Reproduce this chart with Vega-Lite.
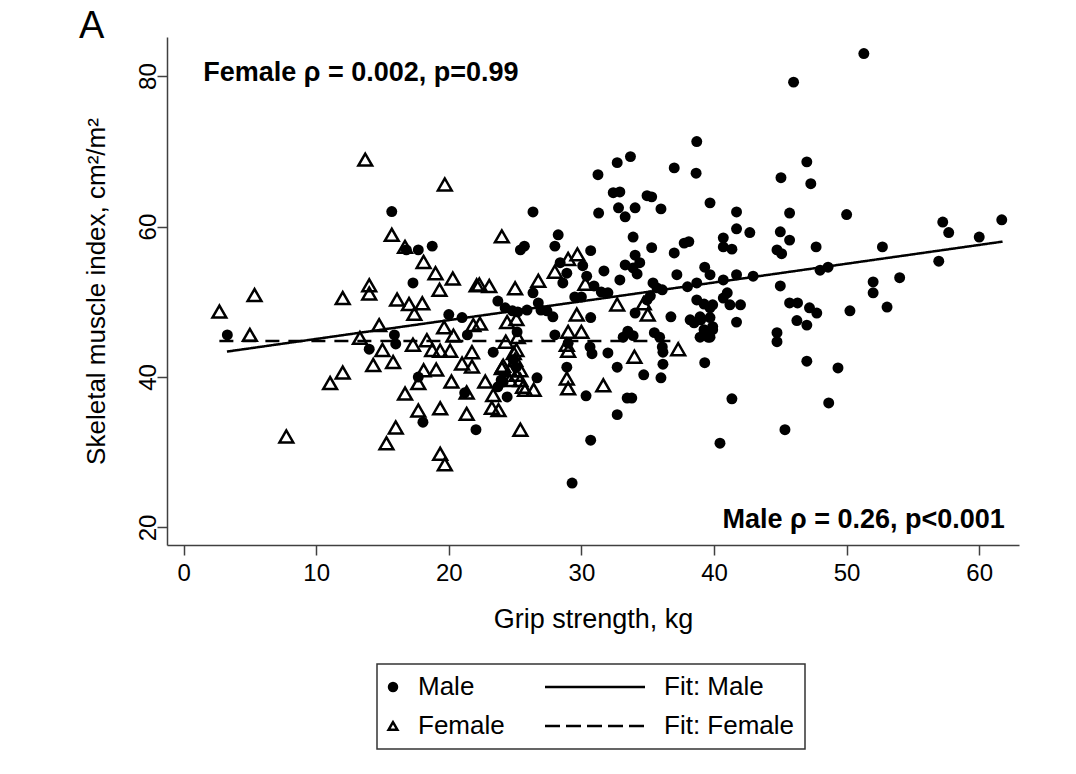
{
  "$schema": "https://vega.github.io/schema/vega-lite/v6.json",
  "width": 852,
  "height": 508,
  "autosize": {"type": "none"},
  "padding": {"left": 167, "top": 37, "right": 57, "bottom": 229},
  "background": "white",
  "title": {"text": "A", "anchor": "start", "frame": "group", "fontSize": 38, "font": "Liberation Sans", "fontWeight": "normal", "color": "black", "dx": -88, "dy": 31, "offset": -8, "baseline": "alphabetic"},
  "config": {
    "view": {"stroke": null},
    "axis": {"labelFont": "Liberation Sans", "titleFont": "Liberation Sans", "labelColor": "black", "titleColor": "black", "domainColor": "#404040", "tickColor": "#404040", "domainWidth": 1.5, "tickWidth": 1.5, "tickSize": 10, "grid": false, "labelFontSize": 24, "titleFontWeight": "normal"}
  },
  "datasets": {
    "fit": [
      {"g": "Fit: Male", "x": 3.27, "y": 43.38},
      {"g": "Fit: Male", "x": 61.76, "y": 58.0},
      {"g": "Fit: Female", "x": 2.7, "y": 44.8},
      {"g": "Fit: Female", "x": 37.4, "y": 44.8}
    ],
    "ann": [
      {"sex": "Female", "label": "Female ρ = 0.002, p=0.99", "x": 1.48, "y": 79.3},
      {"sex": "Male", "label": "Male ρ = 0.26, p<0.001", "x": 61.93, "y": 19.95}
    ],
    "pts": [
      {"g":"Female","x":13.7,"y":68.9},{"g":"Female","x":19.7,"y":65.6},{"g":"Female","x":15.7,"y":58.9},{"g":"Female","x":16.7,"y":57.3},{"g":"Female","x":18.1,"y":55.3},{"g":"Female","x":19.0,"y":53.8},{"g":"Female","x":20.3,"y":53.1},{"g":"Female","x":19.3,"y":51.6},{"g":"Female","x":14.0,"y":51.1},{"g":"Female","x":14.0,"y":52.2},{"g":"Female","x":12.0,"y":50.5},{"g":"Female","x":16.1,"y":50.3},{"g":"Female","x":17.0,"y":49.7},{"g":"Female","x":18.0,"y":49.8},{"g":"Female","x":17.4,"y":48.4},{"g":"Female","x":5.35,"y":50.9},{"g":"Female","x":2.7,"y":48.7},{"g":"Female","x":5.0,"y":45.6},{"g":"Female","x":13.3,"y":45.2},{"g":"Female","x":14.75,"y":46.9},{"g":"Female","x":19.65,"y":46.6},{"g":"Female","x":20.35,"y":45.5},{"g":"Female","x":15.0,"y":43.6},{"g":"Female","x":14.3,"y":41.6},{"g":"Female","x":15.8,"y":42.0},{"g":"Female","x":17.3,"y":44.3},{"g":"Female","x":18.35,"y":44.9},{"g":"Female","x":18.75,"y":43.6},{"g":"Female","x":19.35,"y":43.5},{"g":"Female","x":20.1,"y":43.5},{"g":"Female","x":12.0,"y":40.6},{"g":"Female","x":18.1,"y":40.9},{"g":"Female","x":19.05,"y":41.0},{"g":"Female","x":11.05,"y":39.2},{"g":"Female","x":7.75,"y":32.1},{"g":"Female","x":16.7,"y":37.8},{"g":"Female","x":17.7,"y":39.2},{"g":"Female","x":19.35,"y":35.85},{"g":"Female","x":17.7,"y":35.55},{"g":"Female","x":20.2,"y":39.4},{"g":"Female","x":16.0,"y":33.3},{"g":"Female","x":15.3,"y":31.2},{"g":"Female","x":19.35,"y":29.8},{"g":"Female","x":19.7,"y":28.4},{"g":"Female","x":22.1,"y":52.2},{"g":"Female","x":21.85,"y":46.9},{"g":"Female","x":21.75,"y":43.3},{"g":"Female","x":21.0,"y":41.8},{"g":"Female","x":21.75,"y":41.4},{"g":"Female","x":21.35,"y":37.95},{"g":"Female","x":21.35,"y":35.1},{"g":"Female","x":24.0,"y":58.7},{"g":"Female","x":22.3,"y":52.3},{"g":"Female","x":23.05,"y":52.1},{"g":"Female","x":25.0,"y":51.8},{"g":"Female","x":26.75,"y":52.8},{"g":"Female","x":28.0,"y":54.0},{"g":"Female","x":29.0,"y":55.7},{"g":"Female","x":29.7,"y":56.3},{"g":"Female","x":30.3,"y":52.4},{"g":"Female","x":32.7,"y":49.65},{"g":"Female","x":34.7,"y":49.8},{"g":"Female","x":35.0,"y":48.3},{"g":"Female","x":22.35,"y":47.1},{"g":"Female","x":24.4,"y":47.3},{"g":"Female","x":25.1,"y":47.7},{"g":"Female","x":24.3,"y":44.7},{"g":"Female","x":25.2,"y":45.3},{"g":"Female","x":29.65,"y":48.3},{"g":"Female","x":29.0,"y":46.0},{"g":"Female","x":30.0,"y":46.0},{"g":"Female","x":28.9,"y":44.3},{"g":"Female","x":29.0,"y":43.5},{"g":"Female","x":37.3,"y":43.7},{"g":"Female","x":34.0,"y":42.7},{"g":"Female","x":25.1,"y":43.6},{"g":"Female","x":25.0,"y":42.3},{"g":"Female","x":24.1,"y":41.5},{"g":"Female","x":24.6,"y":40.9},{"g":"Female","x":25.4,"y":40.9},{"g":"Female","x":22.75,"y":39.4},{"g":"Female","x":24.0,"y":41.2},{"g":"Female","x":25.1,"y":40.3},{"g":"Female","x":25.4,"y":39.6},{"g":"Female","x":25.75,"y":38.3},{"g":"Female","x":26.4,"y":38.3},{"g":"Female","x":24.6,"y":39.6},{"g":"Female","x":23.25,"y":35.9},{"g":"Female","x":23.75,"y":35.6},{"g":"Female","x":25.4,"y":33.0},{"g":"Female","x":28.9,"y":39.8},{"g":"Female","x":29.0,"y":38.5},{"g":"Female","x":31.65,"y":38.9},{"g":"Female","x":23.35,"y":37.6},{"g":"Female","x":24.9,"y":43.2},{"g":"Female","x":25.6,"y":38.7},
      {"g":"Male","x":3.3,"y":45.6},{"g":"Male","x":15.7,"y":62.0},{"g":"Male","x":18.75,"y":57.4},{"g":"Male","x":16.8,"y":56.9},{"g":"Male","x":17.7,"y":56.9},{"g":"Male","x":17.3,"y":52.5},{"g":"Male","x":20.0,"y":48.3},{"g":"Male","x":21.0,"y":47.9},{"g":"Male","x":14.0,"y":43.7},{"g":"Male","x":15.9,"y":45.6},{"g":"Male","x":16.0,"y":44.4},{"g":"Male","x":17.7,"y":40.0},{"g":"Male","x":18.05,"y":34.0},{"g":"Male","x":21.4,"y":45.6},{"g":"Male","x":21.2,"y":37.9},{"g":"Male","x":38.7,"y":71.3},{"g":"Male","x":33.7,"y":69.3},{"g":"Male","x":32.7,"y":68.5},{"g":"Male","x":31.25,"y":66.9},{"g":"Male","x":37.0,"y":67.8},{"g":"Male","x":38.65,"y":67.1},{"g":"Male","x":32.4,"y":64.5},{"g":"Male","x":32.9,"y":64.6},{"g":"Male","x":34.95,"y":64.1},{"g":"Male","x":35.3,"y":63.95},{"g":"Male","x":31.3,"y":61.8},{"g":"Male","x":32.8,"y":62.5},{"g":"Male","x":33.3,"y":61.3},{"g":"Male","x":34.05,"y":62.5},{"g":"Male","x":36.0,"y":62.35},{"g":"Male","x":39.7,"y":63.15},{"g":"Male","x":26.35,"y":61.95},{"g":"Male","x":33.9,"y":58.6},{"g":"Male","x":35.3,"y":57.2},{"g":"Male","x":37.75,"y":57.8},{"g":"Male","x":38.1,"y":58.0},{"g":"Male","x":37.0,"y":56.5},{"g":"Male","x":34.05,"y":56.2},{"g":"Male","x":33.3,"y":54.9},{"g":"Male","x":33.9,"y":54.5},{"g":"Male","x":34.4,"y":55.2},{"g":"Male","x":34.2,"y":53.7},{"g":"Male","x":32.9,"y":52.9},{"g":"Male","x":31.7,"y":54.1},{"g":"Male","x":30.7,"y":56.8},{"g":"Male","x":28.25,"y":58.9},{"g":"Male","x":28.0,"y":57.4},{"g":"Male","x":25.4,"y":56.9},{"g":"Male","x":25.7,"y":57.4},{"g":"Male","x":28.4,"y":55.2},{"g":"Male","x":28.9,"y":53.8},{"g":"Male","x":28.6,"y":52.5},{"g":"Male","x":30.1,"y":54.8},{"g":"Male","x":30.4,"y":53.4},{"g":"Male","x":30.95,"y":52.1},{"g":"Male","x":31.5,"y":51.3},{"g":"Male","x":32.0,"y":51.2},{"g":"Male","x":29.5,"y":50.65},{"g":"Male","x":30.0,"y":50.65},{"g":"Male","x":35.4,"y":52.5},{"g":"Male","x":35.7,"y":51.85},{"g":"Male","x":36.1,"y":51.6},{"g":"Male","x":35.2,"y":50.8},{"g":"Male","x":38.0,"y":52.0},{"g":"Male","x":38.7,"y":52.5},{"g":"Male","x":38.7,"y":50.25},{"g":"Male","x":39.25,"y":49.7},{"g":"Male","x":39.7,"y":49.2},{"g":"Male","x":38.5,"y":47.2},{"g":"Male","x":39.0,"y":47.6},{"g":"Male","x":39.25,"y":46.3},{"g":"Male","x":39.55,"y":45.3},{"g":"Male","x":39.9,"y":46.3},{"g":"Male","x":34.05,"y":48.5},{"g":"Male","x":36.75,"y":48.0},{"g":"Male","x":23.7,"y":50.1},{"g":"Male","x":26.35,"y":51.2},{"g":"Male","x":26.75,"y":49.85},{"g":"Male","x":26.95,"y":48.9},{"g":"Male","x":27.4,"y":48.8},{"g":"Male","x":27.85,"y":48.0},{"g":"Male","x":24.25,"y":49.2},{"g":"Male","x":24.8,"y":48.8},{"g":"Male","x":25.2,"y":48.65},{"g":"Male","x":25.9,"y":48.9},{"g":"Male","x":30.7,"y":47.9},{"g":"Male","x":28.0,"y":45.6},{"g":"Male","x":29.0,"y":44.5},{"g":"Male","x":33.5,"y":46.1},{"g":"Male","x":33.9,"y":45.5},{"g":"Male","x":35.5,"y":45.9},{"g":"Male","x":35.9,"y":45.3},{"g":"Male","x":36.1,"y":44.0},{"g":"Male","x":36.15,"y":43.3},{"g":"Male","x":30.65,"y":44.0},{"g":"Male","x":32.0,"y":43.2},{"g":"Male","x":32.7,"y":41.3},{"g":"Male","x":36.15,"y":41.7},{"g":"Male","x":39.3,"y":41.9},{"g":"Male","x":28.9,"y":41.3},{"g":"Male","x":26.65,"y":39.9},{"g":"Male","x":23.35,"y":43.3},{"g":"Male","x":24.85,"y":42.3},{"g":"Male","x":25.1,"y":41.3},{"g":"Male","x":30.8,"y":43.1},{"g":"Male","x":34.7,"y":40.3},{"g":"Male","x":36.0,"y":39.9},{"g":"Male","x":30.35,"y":37.5},{"g":"Male","x":33.45,"y":37.2},{"g":"Male","x":33.8,"y":37.2},{"g":"Male","x":32.7,"y":35.0},{"g":"Male","x":30.7,"y":31.6},{"g":"Male","x":29.3,"y":25.9},{"g":"Male","x":22.05,"y":33.0},{"g":"Male","x":24.4,"y":37.35},{"g":"Male","x":23.7,"y":38.7},{"g":"Male","x":23.95,"y":39.6},{"g":"Male","x":25.15,"y":46.0},{"g":"Male","x":40.45,"y":31.2},{"g":"Male","x":51.3,"y":83.0},{"g":"Male","x":46.0,"y":79.2},{"g":"Male","x":47.0,"y":68.6},{"g":"Male","x":45.05,"y":66.5},{"g":"Male","x":47.3,"y":65.7},{"g":"Male","x":41.7,"y":61.95},{"g":"Male","x":45.7,"y":61.8},{"g":"Male","x":50.0,"y":61.6},{"g":"Male","x":41.7,"y":59.7},{"g":"Male","x":42.7,"y":59.2},{"g":"Male","x":45.0,"y":59.3},{"g":"Male","x":45.7,"y":58.2},{"g":"Male","x":40.7,"y":58.5},{"g":"Male","x":40.7,"y":57.3},{"g":"Male","x":41.35,"y":57.0},{"g":"Male","x":44.75,"y":56.9},{"g":"Male","x":45.1,"y":56.4},{"g":"Male","x":47.7,"y":57.3},{"g":"Male","x":52.7,"y":57.3},{"g":"Male","x":57.25,"y":60.6},{"g":"Male","x":57.7,"y":59.2},{"g":"Male","x":60.0,"y":58.6},{"g":"Male","x":61.7,"y":60.9},{"g":"Male","x":56.95,"y":55.4},{"g":"Male","x":48.6,"y":54.6},{"g":"Male","x":48.0,"y":54.2},{"g":"Male","x":39.3,"y":54.6},{"g":"Male","x":41.7,"y":53.6},{"g":"Male","x":42.95,"y":53.4},{"g":"Male","x":54.0,"y":53.2},{"g":"Male","x":52.0,"y":52.65},{"g":"Male","x":52.0,"y":51.2},{"g":"Male","x":53.05,"y":49.3},{"g":"Male","x":45.0,"y":52.1},{"g":"Male","x":40.7,"y":52.9},{"g":"Male","x":39.7,"y":53.6},{"g":"Male","x":41.0,"y":51.2},{"g":"Male","x":40.7,"y":50.5},{"g":"Male","x":39.9,"y":49.6},{"g":"Male","x":41.2,"y":49.6},{"g":"Male","x":42.0,"y":49.6},{"g":"Male","x":41.7,"y":47.3},{"g":"Male","x":38.95,"y":48.0},{"g":"Male","x":39.7,"y":47.9},{"g":"Male","x":39.9,"y":46.7},{"g":"Male","x":39.7,"y":45.3},{"g":"Male","x":45.7,"y":49.85},{"g":"Male","x":46.3,"y":49.85},{"g":"Male","x":47.2,"y":49.2},{"g":"Male","x":47.75,"y":48.5},{"g":"Male","x":50.25,"y":48.8},{"g":"Male","x":46.25,"y":47.5},{"g":"Male","x":47.0,"y":46.9},{"g":"Male","x":44.75,"y":45.9},{"g":"Male","x":44.75,"y":44.7},{"g":"Male","x":47.0,"y":42.1},{"g":"Male","x":49.35,"y":41.2},{"g":"Male","x":41.35,"y":37.1},{"g":"Male","x":48.65,"y":36.55},{"g":"Male","x":45.35,"y":33.0},{"g":"Male","x":37.2,"y":53.6},{"g":"Male","x":34.95,"y":50.25},{"g":"Male","x":38.2,"y":47.6},{"g":"Male","x":38.95,"y":45.3},{"g":"Male","x":33.15,"y":45.3},{"g":"Male","x":24.1,"y":39.35}
    ]
  },
  "layer": [
    {
      "data": {"name": "pts"},
      "transform": [{"filter": "datum.g === 'Male'"}],
      "mark": {"type": "point", "filled": true, "size": 120, "color": "black", "opacity": 1},
      "encoding": {
        "x": {"field": "x", "type": "quantitative", "scale": {"domain": [-1.25, 63.0], "nice": false, "zero": false}, "axis": {"values": [0, 10, 20, 30, 40, 50, 60], "title": "Grip strength, kg", "titleFontSize": 27, "labelPadding": 6, "titlePadding": 21, "labelFlush": false}},
        "y": {"field": "y", "type": "quantitative", "scale": {"domain": [17.67, 85.2], "nice": false, "zero": false}, "axis": {"values": [20, 40, 60, 80], "title": "Skeletal muscle index, cm²/m²", "titleFontSize": 26, "labelAngle": -90, "labelAlign": "center", "labelBaseline": "alphabetic", "labelPadding": 2, "titlePadding": 27}},
        "shape": {
          "field": "g", "type": "nominal",
          "scale": {"domain": ["Male", "Female", "Fit: Male", "Fit: Female"], "range": ["circle", "triangle-up", "M-1,0H1", "M-1,0H1"]},
          "legend": {
            "title": null, "orient": "none", "legendX": 210, "legendY": 627, "direction": "vertical", "columns": 2,
            "columnPadding": 10, "rowPadding": 13, "padding": 10, "strokeColor": "#333333",
            "labelFont": "Liberation Sans", "labelFontSize": 26, "labelColor": "black", "labelLimit": 300,
            "symbolSize": 120, "symbolStrokeColor": "black", "symbolStrokeWidth": 2.5,
            "encoding": {
              "legend": {"strokeWidth": {"value": 1.5}},
              "symbols": {
                "size": {"value": {"expr": "(datum.value === 'Fit: Male' || datum.value === 'Fit: Female') ? 10000 : (datum.value === 'Male' ? 110 : 80)"}},
                "fill": {"value": {"expr": "datum.value === 'Male' ? 'black' : 'transparent'"}},
                "stroke": {"value": "black"},
                "strokeWidth": {"value": {"expr": "datum.value === 'Male' ? 0 : 2.5"}},
                "strokeDash": {"value": {"expr": "datum.value === 'Fit: Female' ? [15, 6] : [1, 0]"}},
                "opacity": {"value": 1},
                "x": {"value": {"expr": "(datum.value === 'Fit: Male' || datum.value === 'Fit: Female') ? 80 : 6"}}
              },
              "labels": {
                "x": {"value": {"expr": "(datum.value === 'Fit: Male' || datum.value === 'Fit: Female') ? 149 : 31"}}
              }
            }
          }
        }
      }
    },
    {
      "data": {"name": "pts"},
      "transform": [{"filter": "datum.g === 'Female'"}],
      "mark": {"type": "point", "filled": false, "size": 190, "strokeWidth": 2.5, "color": "black", "opacity": 1},
      "encoding": {
        "x": {"field": "x", "type": "quantitative"},
        "y": {"field": "y", "type": "quantitative"},
        "shape": {"field": "g", "type": "nominal", "scale": {"domain": ["Male", "Female", "Fit: Male", "Fit: Female"], "range": ["circle", "triangle-up", "M-1,0H1", "M-1,0H1"]}}
      }
    },
    {
      "data": {"name": "fit"},
      "mark": {"type": "line", "color": "black", "strokeWidth": 2.5, "strokeCap": "butt"},
      "encoding": {
        "x": {"field": "x", "type": "quantitative"},
        "y": {"field": "y", "type": "quantitative"},
        "strokeDash": {"field": "g", "type": "nominal", "scale": {"domain": ["Fit: Male", "Fit: Female"], "range": [[1, 0], [14, 9]]}, "legend": null}
      }
    },
    {
      "data": {"name": "ann"},
      "transform": [{"filter": "datum.sex === 'Female'"}],
      "mark": {"type": "text", "align": "left", "baseline": "alphabetic", "fontSize": 27, "fontWeight": "bold", "font": "Liberation Sans", "color": "black"},
      "encoding": {
        "x": {"field": "x", "type": "quantitative"},
        "y": {"field": "y", "type": "quantitative"},
        "text": {"field": "label"}
      }
    },
    {
      "data": {"name": "ann"},
      "transform": [{"filter": "datum.sex === 'Male'"}],
      "mark": {"type": "text", "align": "right", "baseline": "alphabetic", "fontSize": 27, "fontWeight": "bold", "font": "Liberation Sans", "color": "black"},
      "encoding": {
        "x": {"field": "x", "type": "quantitative"},
        "y": {"field": "y", "type": "quantitative"},
        "text": {"field": "label"}
      }
    }
  ]
}
